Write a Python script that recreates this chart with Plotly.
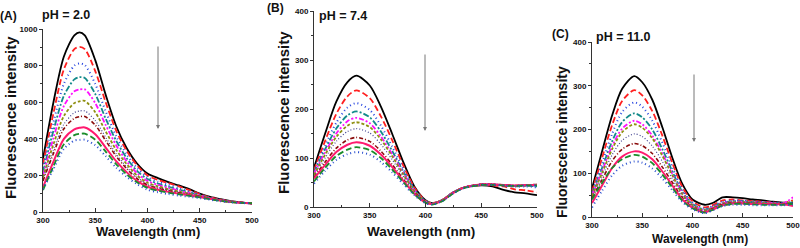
import plotly.graph_objects as go

# ---------------- data ----------------
WL_A = [300, 310, 320, 330, 335, 340, 350, 360, 370, 380, 390, 400, 410, 420, 430, 440, 450, 460, 470, 480, 490, 500]
A1 = [290, 600, 850, 965, 982, 965, 830, 640, 470, 350, 265, 210, 185, 163, 145, 125, 100, 82, 70, 60, 52, 45]
A2 = [260, 540, 780, 890, 902, 890, 770, 600, 445, 335, 255, 200, 175, 158, 140, 120, 98, 80, 68, 58, 52, 48]
A3 = [240, 490, 700, 800, 812, 803, 700, 550, 415, 315, 240, 190, 165, 148, 130, 112, 95, 78, 66, 57, 51, 48]
A4 = [220, 445, 635, 725, 737, 732, 645, 510, 390, 295, 225, 180, 155, 138, 122, 108, 92, 77, 65, 57, 51, 48]
A5 = [200, 405, 580, 660, 670, 670, 595, 475, 365, 278, 212, 170, 148, 132, 117, 104, 90, 76, 65, 57, 51, 48]
A6 = [190, 370, 525, 595, 605, 607, 545, 440, 340, 262, 200, 160, 140, 125, 112, 100, 88, 75, 64, 56, 51, 48]
A7 = [180, 340, 480, 543, 552, 552, 500, 408, 318, 246, 190, 152, 133, 120, 108, 97, 86, 74, 64, 56, 51, 48]
A8 = [170, 320, 455, 512, 521, 522, 475, 390, 305, 237, 183, 147, 130, 117, 105, 95, 85, 73, 63, 56, 51, 48]
A9 = [135, 275, 400, 452, 460, 462, 425, 352, 278, 218, 170, 138, 122, 110, 100, 91, 82, 72, 62, 55, 50, 47]
A10 = [120, 250, 370, 420, 427, 428, 395, 330, 262, 206, 162, 132, 117, 106, 97, 88, 80, 70, 61, 54, 50, 48]
A11 = [125, 235, 345, 390, 394, 395, 365, 305, 243, 192, 152, 122, 108, 98, 90, 83, 76, 67, 59, 53, 49, 48]

WL_B = [300, 310, 320, 330, 338, 350, 360, 370, 380, 390, 400, 406, 415, 425, 435, 450, 460, 470, 480, 490, 500]
B1 = [80, 150, 215, 255, 268, 248, 205, 150, 92, 42, 14, 8, 14, 30, 40, 44, 42, 35, 30, 28, 24]
B2 = [75, 135, 190, 226, 238, 222, 185, 137, 85, 40, 13, 8, 14, 30, 40, 45, 44, 42, 36, 34, 30]
B3 = [72, 125, 172, 203, 212, 198, 166, 124, 78, 37, 12, 7, 14, 30, 40, 46, 46, 44, 42, 42, 40]
B4 = [70, 118, 160, 187, 195, 183, 154, 115, 73, 35, 12, 7, 14, 30, 40, 46, 46, 44, 42, 43, 42]
B5 = [68, 112, 150, 175, 182, 171, 144, 108, 70, 34, 11, 7, 14, 30, 40, 46, 46, 45, 43, 44, 44]
B6 = [65, 107, 143, 166, 173, 163, 138, 104, 67, 33, 11, 7, 14, 30, 40, 46, 46, 45, 43, 44, 45]
B7 = [62, 100, 134, 154, 160, 151, 128, 97, 63, 31, 10, 6, 13, 30, 40, 47, 47, 45, 44, 45, 46]
B8 = [60, 92, 120, 137, 142, 134, 114, 87, 57, 29, 10, 6, 13, 29, 40, 46, 46, 45, 44, 45, 46]
B9 = [58, 86, 112, 127, 132, 125, 107, 82, 54, 27, 9, 6, 13, 29, 40, 46, 46, 45, 44, 45, 45]
B10 = [52, 80, 104, 117, 122, 116, 100, 77, 51, 26, 9, 5, 12, 28, 39, 45, 45, 44, 43, 44, 44]
B11 = [48, 74, 96, 108, 112, 107, 92, 71, 47, 24, 8, 5, 12, 28, 39, 45, 45, 44, 43, 44, 44]

WL_C = [300, 310, 320, 330, 342, 350, 360, 370, 380, 390, 400, 412, 420, 430, 440, 450, 460, 470, 480, 490, 500]
C1 = [65, 150, 232, 293, 322, 308, 268, 205, 135, 75, 40, 28, 32, 45, 45, 43, 40, 38, 35, 33, 32]
C2 = [58, 135, 210, 265, 290, 278, 242, 186, 123, 68, 36, 22, 27, 38, 40, 38, 36, 35, 33, 32, 38]
C3 = [55, 122, 190, 240, 262, 252, 220, 170, 113, 62, 33, 19, 25, 35, 38, 37, 35, 34, 33, 32, 35]
C4 = [52, 112, 173, 217, 237, 228, 200, 155, 104, 57, 30, 17, 23, 33, 36, 36, 34, 33, 32, 31, 34]
C5 = [50, 105, 162, 202, 220, 212, 186, 145, 98, 54, 28, 15, 22, 32, 35, 35, 33, 33, 32, 31, 45]
C6 = [48, 100, 155, 194, 212, 204, 180, 140, 95, 52, 27, 15, 21, 31, 34, 34, 33, 32, 31, 30, 36]
C7 = [45, 92, 142, 175, 190, 184, 162, 127, 87, 48, 25, 13, 20, 30, 33, 33, 32, 31, 30, 30, 33]
C8 = [42, 85, 128, 155, 168, 163, 145, 114, 79, 44, 23, 12, 19, 29, 32, 32, 31, 30, 29, 29, 30]
C9 = [32, 72, 112, 138, 150, 147, 132, 104, 72, 40, 21, 11, 17, 27, 31, 31, 30, 30, 29, 29, 25]
C10 = [40, 78, 112, 132, 142, 138, 123, 97, 67, 37, 20, 10, 16, 26, 30, 30, 29, 28, 28, 28, 30]
C11 = [22, 60, 95, 117, 127, 124, 111, 88, 61, 34, 18, 9, 15, 25, 28, 28, 27, 27, 27, 27, 28]

PANEL_LABELS = ["(A)", "(B)", "(C)"]
PH_LABELS = ["pH = 2.0", "pH = 7.4", "pH = 11.0"]
X_TITLE = "Wavelength (nm)"
Y_TITLE = "Fluorescence intensity"

# ---------------- styles ----------------
STYLES = [
    dict(color="#000000", dash="solid", width=1.8),
    dict(color="#ff2020", dash="6px,3px", width=1.8),
    dict(color="#2a48e0", dash="1px,3px", width=2.0),
    dict(color="#138a8a", dash="6px,2px,2px,2px", width=1.8),
    dict(color="#ff10ff", dash="5px,2px,2px,2px,2px,2px", width=1.8),
    dict(color="#8f8f10", dash="3px,2px", width=1.8),
    dict(color="#40408f", dash="1px,2px", width=1.2),
    dict(color="#8a0a0a", dash="4px,2px,1px,2px", width=1.6),
    dict(color="#ff1a6e", dash="solid", width=2.0),
    dict(color="#1a8c2a", dash="6px,3px", width=1.8),
    dict(color="#2a4fcf", dash="1px,3px", width=2.0),
]

W, H = 800, 248
FONT = "Liberation Sans"

def px_x(p):
    return p / W

def px_y(p):
    return (H - p) / H

panels = [
    dict(wl=WL_A, series=[A1, A2, A3, A4, A5, A6, A7, A8, A9, A10, A11],
         x0=43, x1=252, yb=212, yt=29, yr=[0, 1000], dtick=200, mdt=100,
         ytitle=(10, 118, 15), xtitle=(148, 231, 13),
         lab=(8, 16), ph=(66, 15), arrow=(158, 45, 129)),
    dict(wl=WL_B, series=[B1, B2, B3, B4, B5, B6, B7, B8, B9, B10, B11],
         x0=314, x1=537, yb=207, yt=11, yr=[0, 400], dtick=100, mdt=50,
         ytitle=(283, 113, 15), xtitle=(421, 231, 13.5),
         lab=(275, 8), ph=(343, 16), arrow=(425, 53, 131)),
    dict(wl=WL_C, series=[C1, C2, C3, C4, C5, C6, C7, C8, C9, C10, C11],
         x0=592, x1=793, yb=217, yt=42, yr=[0, 400], dtick=100, mdt=50,
         ytitle=(562, 142, 14), xtitle=(700, 239, 12),
         lab=(560, 34), ph=(623, 37), arrow=(694, 73, 142)),
]

fig = go.Figure()
annotations = []
layout = dict(width=W, height=H, margin=dict(l=0, r=0, t=0, b=0, autoexpand=False),
              paper_bgcolor="white", plot_bgcolor="white", showlegend=False,
              font=dict(family=FONT, color="#111"))

for i, p in enumerate(panels):
    sfx = "" if i == 0 else str(i + 1)
    for s, st in zip(p["series"], STYLES):
        fig.add_trace(go.Scatter(
            x=p["wl"], y=s, mode="lines", xaxis="x" + sfx, yaxis="y" + sfx,
            line=dict(color=st["color"], dash=st["dash"], width=st["width"],
                      shape="spline", smoothing=0.8),
            cliponaxis=False, hoverinfo="skip"))
    layout["xaxis" + sfx] = dict(
        domain=[px_x(p["x0"]), px_x(p["x1"])], anchor="y" + sfx, automargin=False,
        range=[300, 500], tick0=300, dtick=50, showgrid=False, zeroline=False,
        showline=True, linecolor="#333", linewidth=1, ticklabeloverflow="allow",
        ticks="inside", ticklen=4, tickcolor="#333",
        minor=dict(ticks="inside", ticklen=2, dtick=25, tickcolor="#333"),
        tickfont=dict(family=FONT, size=8, weight="bold", color="#111"))
    layout["yaxis" + sfx] = dict(
        domain=[px_y(p["yb"]), px_y(p["yt"])], anchor="x" + sfx, automargin=False,
        range=p["yr"], dtick=p["dtick"], showgrid=False, zeroline=False,
        showline=True, linecolor="#333", linewidth=1, ticklabeloverflow="allow",
        ticks="outside", ticklen=3, tickcolor="#333",
        minor=dict(ticks="outside", ticklen=2, dtick=p["mdt"], tickcolor="#333"),
        tickfont=dict(family=FONT, size=8, weight="bold", color="#111"))
    # axis titles
    tx, ty, ts = p["ytitle"]
    annotations.append(dict(text=Y_TITLE, x=px_x(tx), y=px_y(ty), xref="paper", yref="paper",
                            showarrow=False, textangle=-90, xanchor="center", yanchor="middle",
                            font=dict(family=FONT, size=ts, weight="bold", color="#111")))
    tx, ty, ts = p["xtitle"]
    annotations.append(dict(text=X_TITLE, x=px_x(tx), y=px_y(ty), xref="paper", yref="paper",
                            showarrow=False, xanchor="center", yanchor="middle",
                            font=dict(family=FONT, size=ts, weight="bold", color="#111")))
    lx, ly = p["lab"]
    annotations.append(dict(text=PANEL_LABELS[i], x=px_x(lx), y=px_y(ly), xref="paper", yref="paper",
                            showarrow=False, xanchor="center", yanchor="middle",
                            font=dict(family=FONT, size=12, weight="bold", color="#111")))
    hx, hy = p["ph"]
    annotations.append(dict(text=PH_LABELS[i], x=px_x(hx), y=px_y(hy), xref="paper", yref="paper",
                            showarrow=False, xanchor="center", yanchor="middle",
                            font=dict(family=FONT, size=12.5, weight="bold", color="#111")))
    ax_, top, bot = p["arrow"]
    annotations.append(dict(text="", x=px_x(ax_), y=px_y(bot), xref="paper", yref="paper",
                            ax=0, ay=-(bot - top), axref="pixel", ayref="pixel",
                            showarrow=True, arrowhead=2, arrowsize=0.8, arrowwidth=1,
                            arrowcolor="#777"))

layout["annotations"] = annotations
fig.update_layout(**layout)
fig.write_html("out.html", config={"displayModeBar": False, "staticPlot": True},
               post_script="document.body.style.margin='0';document.body.style.overflow='hidden';")
